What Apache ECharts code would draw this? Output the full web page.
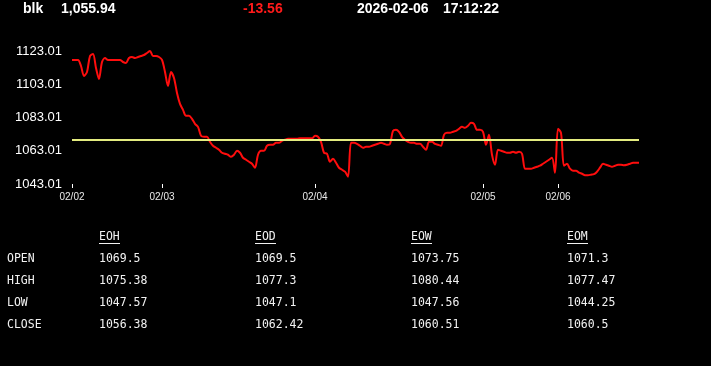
<!DOCTYPE html>
<html><head><meta charset="utf-8">
<script src="https://cdn.jsdelivr.net/npm/echarts@6/dist/echarts.min.js"></script>
<style>html,body{margin:0;padding:0;background:#000;}#c{width:711px;height:366px;}</style>
</head><body><div id="c"></div>
<script>
// ---- data ----
const symbol = 'blk';
const lastPrice = '1,055.94';
const change = '-13.56';
const dateText = '2026-02-06';
const timeText = '17:12:22';

const axisBase = 1043.01;
const axisTop = 1123.01;
const axisStep = 20;
const refLevel = 1069.5;

const dayTickIndex = [0, 30, 81, 137, 162];
const dayTickLabel = ['02/02', '02/03', '02/04', '02/05', '02/06'];

const prices = [
1117.6,1117.6,1117.6,1114.0,1108.0,1110.4,1120.0,1121.2,1112.8,1106.2,
1116.4,1118.8,1117.6,1117.6,1117.6,1117.6,1117.6,1116.4,1115.8,1118.8,
1119.4,1118.8,1119.4,1120.0,1120.6,1121.8,1123.0,1120.0,1120.0,1119.4,
1117.6,1110.4,1102.0,1110.4,1106.8,1097.8,1091.2,1087.6,1084.0,1084.0,
1082.2,1079.2,1077.4,1072.0,1071.4,1071.4,1068.4,1066.0,1064.8,1063.6,
1061.8,1061.2,1060.6,1059.4,1060.6,1063.0,1061.8,1058.8,1057.6,1056.4,
1055.2,1052.8,1060.6,1063.0,1063.0,1066.0,1066.6,1066.6,1067.8,1067.8,
1069.0,1069.6,1070.2,1070.2,1070.2,1070.2,1070.5,1070.5,1070.5,1070.5,
1070.5,1072.0,1071.4,1068.4,1061.8,1061.2,1056.4,1058.2,1055.8,1052.8,
1051.6,1050.4,1047.4,1067.8,1067.8,1067.2,1066.0,1064.8,1065.4,1065.4,
1066.0,1066.6,1067.2,1067.8,1067.2,1066.6,1067.2,1075.0,1075.6,1074.4,
1071.4,1069.6,1068.4,1067.8,1067.8,1067.2,1067.2,1065.4,1063.6,1068.4,
1068.4,1067.2,1066.6,1066.0,1072.6,1073.8,1073.8,1074.4,1075.0,1076.2,
1077.4,1076.8,1078.0,1079.8,1079.2,1075.6,1075.6,1074.4,1066.6,1072.6,
1060.6,1054.6,1063.6,1063.0,1062.4,1061.8,1061.8,1062.4,1061.8,1062.4,
1061.2,1052.2,1052.2,1052.2,1052.8,1053.4,1054.0,1055.2,1056.4,1057.6,
1058.8,1049.8,1076.2,1073.8,1054.0,1055.2,1052.2,1051.0,1051.0,1049.8,
1049.2,1048.3,1048.3,1048.6,1048.9,1050.4,1052.8,1055.2,1054.6,1054.0,
1053.4,1054.0,1054.6,1054.6,1054.3,1054.6,1055.2,1055.8,1055.8,1055.8
];

const tableCols = ['EOH', 'EOD', 'EOW', 'EOM'];
const rowLabels = ['OPEN', 'HIGH', 'LOW', 'CLOSE'];
const eoh = ['1069.5', '1075.38', '1047.57', '1056.38'];
const eod = ['1069.5', '1077.3', '1047.1', '1062.42'];
const eow = ['1073.75', '1080.44', '1047.56', '1060.51'];
const eom = ['1071.3', '1077.47', '1044.25', '1060.5'];

// ---- build ----
const categories = prices.map((_, i) => String(i));
const seriesData = prices.map(v => +(v - axisBase).toFixed(2));
const tickSet = new Set(dayTickIndex);

const sansB = 'bold 14px "Liberation Sans", Arial, sans-serif';
const mono = '11.5px "DejaVu Sans Mono", monospace';
const graphics = [];
function txt(x, y, text, font, fill) {
  graphics.push({type: 'text', x: x, y: y, silent: true,
    style: {text: text, font: font, fill: fill, textAlign: 'left', textVerticalAlign: 'middle'}});
}
txt(23, 9, symbol, sansB, '#fff');
txt(61, 9, lastPrice, sansB, '#fff');
txt(243, 9, change, sansB, '#ff1a1a');
txt(357, 9, dateText, sansB, '#fff');
txt(443, 9, timeText, sansB, '#fff');

const colX = [99, 255, 411, 567];
const rowY = [259, 281, 303, 325];
const cols = [eoh, eod, eow, eom];
rowLabels.forEach((r, i) => txt(7, rowY[i], r, mono, '#f2f2f2'));
tableCols.forEach((h, j) => {
  txt(colX[j], 237.5, h, mono, '#f2f2f2');
  graphics.push({type: 'line', silent: true,
    shape: {x1: colX[j], y1: 243.5, x2: colX[j] + 21, y2: 243.5},
    style: {stroke: '#f2f2f2', lineWidth: 1}});
  cols[j].forEach((v, i) => txt(colX[j], rowY[i], v, mono, '#f2f2f2'));
});

const chart = echarts.init(document.getElementById('c'), null, {renderer: 'canvas'});
chart.setOption({
  backgroundColor: '#000',
  animation: false,
  grid: {left: 72, right: 72, top: 51, bottom: 182},
  xAxis: {
    type: 'category', data: categories, boundaryGap: false,
    axisLine: {show: false},
    axisTick: {show: true, length: 4, interval: (i) => tickSet.has(i), lineStyle: {color: '#fff', width: 1}},
    axisLabel: {interval: (i) => tickSet.has(i), margin: 8, color: '#e8e8e8',
      fontSize: 10, fontFamily: '"Liberation Sans", Arial, sans-serif',
      formatter: (v, i) => { const k = dayTickIndex.indexOf(+v); return k >= 0 ? dayTickLabel[k] : ''; }},
    splitLine: {show: false}
  },
  yAxis: {
    type: 'value', min: 0, max: axisTop - axisBase, interval: axisStep,
    axisLine: {show: false}, axisTick: {show: false}, splitLine: {show: false},
    axisLabel: {color: '#fff', fontSize: 13, margin: 10,
      fontFamily: '"Liberation Sans", Arial, sans-serif',
      formatter: (v) => (v + axisBase).toFixed(2)}
  },
  series: [{
    type: 'line', data: seriesData, showSymbol: false, smooth: 0.3,
    lineStyle: {color: '#ff0d0d', width: 2},
    markLine: {silent: true, symbol: 'none', label: {show: false},
      lineStyle: {color: '#e4ec80', width: 2, type: 'solid'},
      data: [{yAxis: refLevel - axisBase}]}
  }],
  graphic: graphics
});
</script></body></html>
